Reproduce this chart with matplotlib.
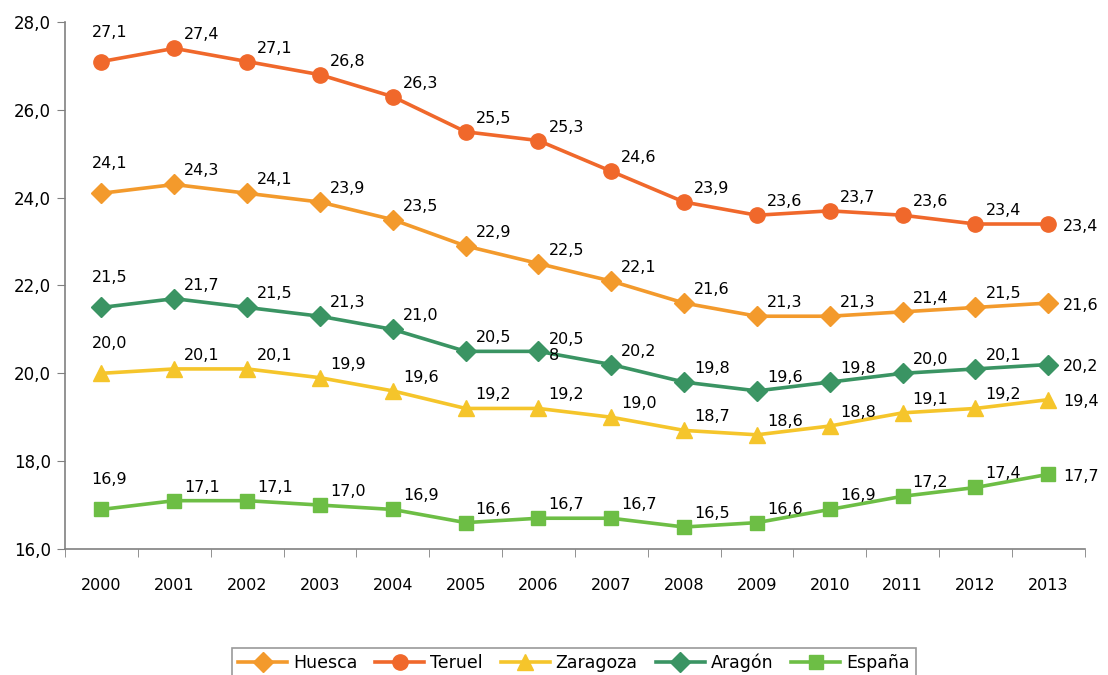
import matplotlib.pyplot as plt
from matplotlib.ticker import FixedLocator

plt.rcParams['font.family'] = ['DejaVu Sans']

anios = ['2000', '2001', '2002', '2003', '2004', '2005', '2006',
         '2007', '2008', '2009', '2010', '2011', '2012', '2013']

huesca = [24.1, 24.3, 24.1, 23.9, 23.5, 22.9, 22.5, 22.1, 21.6, 21.3, 21.3, 21.4, 21.5, 21.6]
teruel = [27.1, 27.4, 27.1, 26.8, 26.3, 25.5, 25.3, 24.6, 23.9, 23.6, 23.7, 23.6, 23.4, 23.4]
zaragoza = [20.0, 20.1, 20.1, 19.9, 19.6, 19.2, 19.2, 19.0, 18.7, 18.6, 18.8, 19.1, 19.2, 19.4]
aragon = [21.5, 21.7, 21.5, 21.3, 21.0, 20.5, 20.5, 20.2, 19.8, 19.6, 19.8, 20.0, 20.1, 20.2]
espana = [16.9, 17.1, 17.1, 17.0, 16.9, 16.6, 16.7, 16.7, 16.5, 16.6, 16.9, 17.2, 17.4, 17.7]

series = [
    ('Huesca', huesca, '#F39A2C', 'D', 10),
    ('Teruel', teruel, '#F0682B', 'o', 11),
    ('Zaragoza', zaragoza, '#F5C52B', '^', 12),
    ('Aragón', aragon, '#3A9463', 'D', 10),
    ('España', espana, '#6DBE45', 's', 10),
]

fig = plt.figure(figsize=(11.08, 6.75), dpi=100)
ax = fig.add_axes([0.0587, 0.1867, 0.9203, 0.7807])

x = list(range(len(anios)))
for nombre, valores, color, marcador, tam in series:
    ax.plot(x, valores, color=color, lw=2.6, marker=marcador, markersize=tam,
            label=nombre, zorder=3)
    for i, v in enumerate(valores):
        texto = f'{v:.1f}'.replace('.', ',')
        if nombre == 'Aragón' and i == 6:
            # etiqueta partida como en el original
            ax.annotate(texto + '\n8', (i, v), xytext=(10, 4), textcoords='offset pixels',
                        ha='left', va='center', fontsize=11.5, linespacing=1.05)
            continue
        if i == 0:
            ax.annotate(texto, (i, v), xytext=(8, 22), textcoords='offset pixels',
                        ha='center', va='bottom', fontsize=11.5)
        elif i == len(valores) - 1:
            ax.annotate(texto, (i, v), xytext=(15, -2), textcoords='offset pixels',
                        ha='left', va='center', fontsize=11.5)
        else:
            ax.annotate(texto, (i, v), xytext=(10, 6), textcoords='offset pixels',
                        ha='left', va='bottom', fontsize=11.5)

ax.set_xlim(-0.5, 13.5)
ax.set_ylim(16, 28)
ax.set_yticks([16, 18, 20, 22, 24, 26, 28])
ax.set_yticklabels(['16,0', '18,0', '20,0', '22,0', '24,0', '26,0', '28,0'], fontsize=12)
ax.set_xticks(x)
ax.set_xticklabels(anios, fontsize=11.5)
ax.tick_params(axis='x', which='major', length=0, pad=21)
ax.xaxis.set_minor_locator(FixedLocator([i - 0.5 for i in range(len(anios) + 1)]))
ax.tick_params(axis='x', which='minor', length=6, color='#808080', direction='out')
ax.tick_params(axis='y', length=6, color='#808080', direction='out', pad=4)

for lado in ['top', 'right']:
    ax.spines[lado].set_visible(False)
for lado in ['left', 'bottom']:
    ax.spines[lado].set_color('#808080')
    ax.spines[lado].set_linewidth(1.2)

leg = fig.legend(loc='upper center', bbox_to_anchor=(0.518, 0.053), ncol=5,
                 frameon=True, fancybox=False, edgecolor='#808080',
                 fontsize=12.5, handlelength=2.8, columnspacing=1.05,
                 handletextpad=0.35, borderpad=0.35)
leg.get_frame().set_linewidth(1.2)

fig.savefig('out.png', dpi=100)
